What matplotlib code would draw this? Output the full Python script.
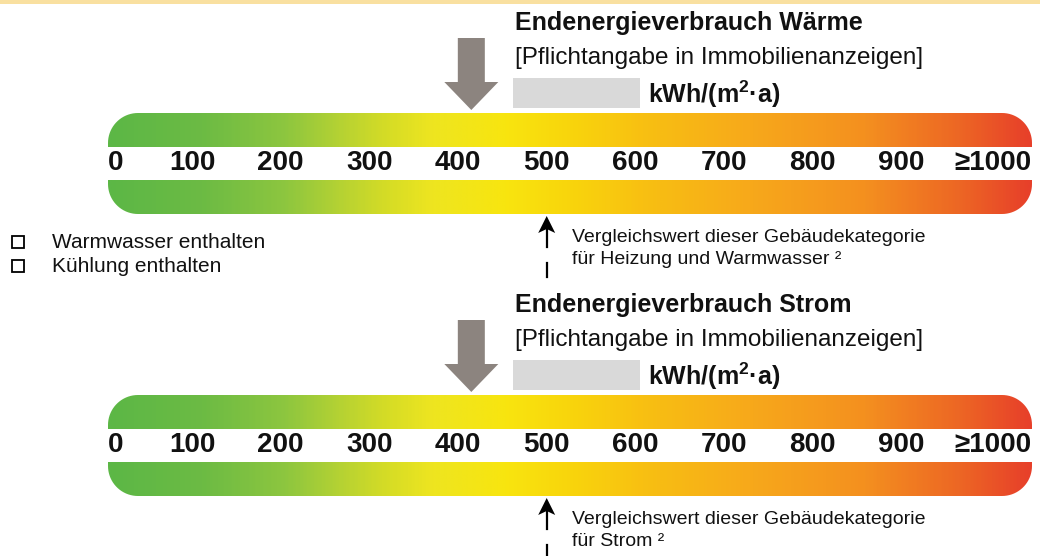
import matplotlib
matplotlib.use('Agg')
import matplotlib.pyplot as plt
import numpy as np
from matplotlib.path import Path
from matplotlib.patches import PathPatch, FancyArrow
from matplotlib.colors import LinearSegmentedColormap

plt.rcParams['font.family'] = ['Liberation Sans', 'DejaVu Sans']
plt.rcParams['mathtext.fontset'] = 'custom'
plt.rcParams['mathtext.rm'] = 'Liberation Sans'
plt.rcParams['mathtext.bf'] = 'Liberation Sans:bold'

# --- data -----------------------------------------------------------------
scale_values = [0, 100, 200, 300, 400, 500, 600, 700, 800, 900, 1000]
scale_labels = ['0', '100', '200', '300', '400', '500', '600', '700', '800', '900', '≥1000']

titles = ['Endenergieverbrauch Wärme', 'Endenergieverbrauch Strom']
subtitle = '[Pflichtangabe in Immobilienanzeigen]'
unit = r'kWh/(m$^{\mathbf{2}}$·a)'
marker_values = [415, 415]        # grey arrow above the bar
reference_values = [500, 500]     # comparison value below the bar
note_line1 = 'Vergleichswert dieser Gebäudekategorie'
note_line2 = ['für Heizung und Warmwasser ²', 'für Strom ²']
checkbox_labels = ['Warmwasser enthalten', 'Kühlung enthalten']

grad_pos = [0.0, 0.10, 0.19, 0.25, 0.30, 0.35, 0.43, 0.50, 0.58, 0.70, 0.82, 0.92, 1.0]
grad_col = ['#5cb746', '#6cbb44', '#8dc63f', '#b5d233', '#d5dc26', '#eee520', '#f8e50f',
            '#f9d50c', '#f8c012', '#f7a81b', '#f4901f', '#ed6824', '#e7402a']
cmap = LinearSegmentedColormap.from_list('energy', list(zip(grad_pos, grad_col)))

# --- layout helpers (pixel -> x units) --------------------------------------
X0, SX = 103.3, 0.8868
def xu(px):
    return (px - X0) / SX

fig = plt.figure(figsize=(10.4, 5.56), dpi=100)
ax = fig.add_axes([0, 0, 1, 1])

bar_l, bar_r = xu(108), xu(1032)
rx, ry = 30 / SX, 30


def bar_path(yt, yb, top=True):
    t = np.linspace(0, np.pi / 2, 20)
    cy = yt + ry
    left = np.c_[bar_l + rx - rx * np.cos(t), cy - ry * np.sin(t)]
    right = np.c_[bar_r - rx + rx * np.sin(t), cy - ry * np.cos(t)]
    pts = np.vstack([[bar_l, yb], left, right, [bar_r, yb], [bar_l, yb]])
    if not top:
        pts[:, 1] = yt + yb - pts[:, 1]
    return Path(pts, closed=True)


def gradient_bar(yt, yb, top):
    patch = PathPatch(bar_path(yt, yb, top), facecolor='none', edgecolor='none',
                      transform=ax.transData)
    ax.add_patch(patch)
    im = ax.imshow(np.linspace(0, 1, 600)[None, :], cmap=cmap, aspect='auto',
                   extent=[bar_l, bar_r, yb, yt], interpolation='bilinear')
    im.set_clip_path(patch)


ax.axhspan(0, 4, color='#f9e0a0', lw=0)

for i in range(2):
    dy = 282 * i
    # headings
    ax.text(xu(515), 23 + dy, titles[i], fontsize=18, fontweight='bold',
            ha='left', va='center', color='#111111')
    ax.text(xu(515), 58 + dy, subtitle, fontsize=17.5, ha='left', va='center',
            color='#111111')
    ax.add_patch(plt.Rectangle((xu(513), 78 + dy), xu(640) - xu(513), 30,
                               facecolor='#d9d9d9', edgecolor='none'))
    ax.text(xu(648), 94 + dy, unit, fontsize=18, fontweight='bold',
            ha='left', va='center', color='#111111')

    # marker arrow
    ax.add_patch(FancyArrow(marker_values[i], 38 + dy, 0, 72, width=27 / SX,
                            head_width=54 / SX, head_length=28,
                            length_includes_head=True, color='#8c847f', lw=0))

    # bars and scale
    gradient_bar(113 + dy, 147 + dy, True)
    gradient_bar(180 + dy, 214 + dy, False)
    for j, (v, lab) in enumerate(zip(scale_values, scale_labels)):
        if j == 0:
            x, ha = bar_l, 'left'
        elif j == len(scale_values) - 1:
            x, ha = bar_r, 'right'
        else:
            x, ha = v, 'center'
        ax.text(x, 163 + dy, lab, fontsize=20, fontweight='bold', ha=ha,
                va='center', color='#111111')

    # comparison arrow
    rv = reference_values[i]
    tip = 216 + dy
    ax.fill([rv, rv - 8.5 / SX, rv, rv + 8.5 / SX],
            [tip, tip + 17, tip + 13, tip + 17], color='black', lw=0)
    ax.plot([rv, rv], [tip + 13, tip + 31], color='black', lw=1.6)
    ax.plot([rv, rv], [tip + 47, tip + 61], color='black', lw=1.6)
    ax.text(xu(572), 237 + dy, note_line1, fontsize=14, ha='left', va='center',
            color='#111111')
    ax.text(xu(572), 259 + dy, note_line2[i], fontsize=14, ha='left', va='center',
            color='#111111')

# check boxes
for k, lab in enumerate(checkbox_labels):
    y = 242 + 24 * k
    ax.plot(xu(18), y, marker='s', ms=8.5, mfc='white', mec='black', mew=1.3)
    ax.text(xu(52), y, lab, fontsize=15, ha='left', va='center', color='#111111')

ax.set_xlim(xu(0), xu(1040))
ax.set_ylim(556, 0)
ax.axis('off')

fig.savefig('out.png', dpi=100)
